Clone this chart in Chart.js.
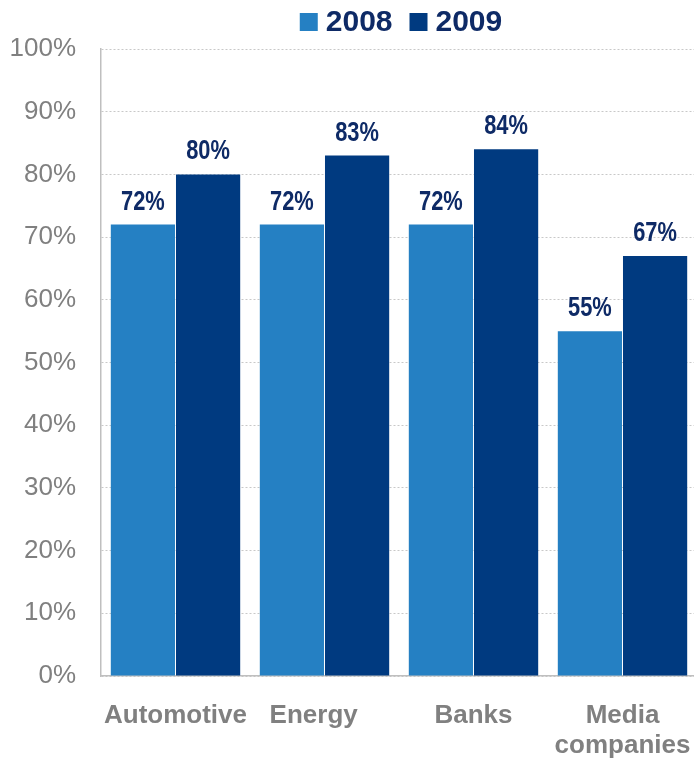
<!DOCTYPE html>
<html>
<head>
<meta charset="utf-8">
<script src="https://cdn.jsdelivr.net/npm/chart.js@4.4.1/dist/chart.umd.min.js"></script>
<style>
html,body{margin:0;padding:0;background:#fff;overflow:hidden;}
canvas{display:block;}
</style>
</head>
<body>
<canvas id="c" width="700" height="762"></canvas>
<script>
const categories = ["Automotive", "Energy   ", "Banks", ["Media", "companies"]];
const series2008 = [72, 72, 72, 55];
const series2009 = [80, 83, 84, 67];
const seriesNames = ["2008", "2009"];
const yTicks = [0, 10, 20, 30, 40, 50, 60, 70, 80, 90, 100];

const colors = ["#2580C3", "#003A80"];
const labelColor = "#0E2A66";
const sans = '"Liberation Sans", Arial, sans-serif';

const valueLabels = {
  id: 'valueLabels',
  afterDatasetsDraw(chart) {
    const ctx = chart.ctx;
    ctx.save();
    ctx.font = 'bold 27px ' + sans;
    ctx.fillStyle = labelColor;
    ctx.textAlign = 'center';
    ctx.textBaseline = 'alphabetic';
    chart.data.datasets.forEach((ds, i) => {
      chart.getDatasetMeta(i).data.forEach((bar, j) => {
        ctx.save();
        ctx.translate(bar.x, bar.y - 15);
        ctx.scale(0.81, 1);
        ctx.fillText(ds.data[j] + '%', 0, 0);
        ctx.restore();
      });
    });
    ctx.restore();
  }
};

const customLegend = {
  id: 'customLegend',
  afterDraw(chart) {
    const ctx = chart.ctx;
    ctx.save();
    ctx.font = 'bold 30px ' + sans;
    ctx.textBaseline = 'middle';
    const box = 18, gap = 8, itemGap = 17;
    const items = chart.data.datasets.map(d => ({t: d.label, c: d.backgroundColor, w: ctx.measureText(d.label).width}));
    let total = items.reduce((s, it) => s + box + gap + it.w, 0) + itemGap * (items.length - 1);
    const cx = (chart.chartArea.left + chart.chartArea.right) / 2 + 2;
    let x = cx - total / 2;
    const y = 22;
    items.forEach(it => {
      ctx.fillStyle = it.c;
      ctx.fillRect(x, y - box / 2, box, box);
      x += box + gap;
      ctx.fillStyle = labelColor;
      ctx.textAlign = 'left';
      ctx.fillText(it.t, x, y + 1);
      x += it.w + itemGap;
    });
    ctx.restore();
  }
};

new Chart(document.getElementById('c'), {
  type: 'bar',
  data: {
    labels: categories,
    datasets: [
      {label: seriesNames[0], data: series2008, backgroundColor: colors[0]},
      {label: seriesNames[1], data: series2009, backgroundColor: colors[1]}
    ]
  },
  options: {
    responsive: false,
    animation: false,
    layout: {padding: {top: 49, left: 8, right: 3, bottom: 0}},
    datasets: {bar: {categoryPercentage: 0.875, barPercentage: 0.985}},
    plugins: {legend: {display: false}, tooltip: {enabled: false}},
    scales: {
      x: {
        afterFit(a) { a.paddingLeft = 0; a.paddingRight = 0; a.height = 86; },
        grid: {display: false, drawTicks: false},
        border: {display: true, color: '#BFBFBF', width: 1.5},
        ticks: {
          color: '#808080',
          padding: 25,
          maxRotation: 0,
          autoSkip: false,
          font: {family: sans, size: 26, weight: 'bold', lineHeight: 1.15}
        }
      },
      y: {
        min: 0, max: 100,
        afterBuildTicks(axis) { axis.ticks = yTicks.map(v => ({value: v})); },
        afterFit(a) { a.paddingTop = 0; a.paddingBottom = 0; a.width = 93; },
        grid: {color: '#C8C8C8', lineWidth: 1, drawTicks: false},
        border: {display: true, color: '#BFBFBF', width: 1.5, dash: [2, 2]},
        ticks: {
          color: '#808080',
          padding: 25,
          callback: v => v + '%',
          font: {family: sans, size: 26}
        }
      }
    }
  },
  plugins: [valueLabels, customLegend]
});
</script>
</body>
</html>
